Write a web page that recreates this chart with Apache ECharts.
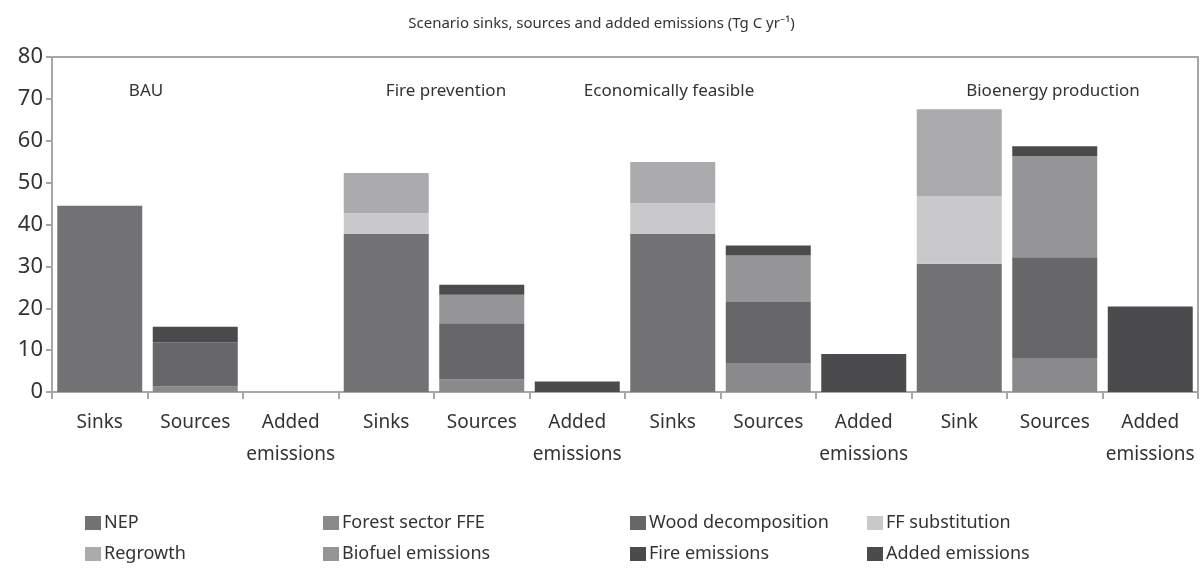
<!DOCTYPE html>
<html>
<head>
<meta charset="utf-8">
<script src="https://cdn.jsdelivr.net/npm/echarts@6/dist/echarts.min.js"></script>
<style>
  html, body { margin: 0; padding: 0; background: #fff; }
  #chart { width: 1203px; height: 569px; }
</style>
</head>
<body>
<div id="chart"></div>
<script>
// categories (three per scenario)
const categories = ['Sinks', 'Sources', 'Added\nemissions', 'Sinks', 'Sources', 'Added\nemissions',
  'Sinks', 'Sources', 'Added\nemissions', 'Sink', 'Sources', 'Added\nemissions']
const scenarios = ['BAU', 'Fire prevention', 'Economically feasible', 'Bioenergy production']
const yTicks = [0, 10, 20, 30, 40, 50, 60, 70, 80]

// values (Tg C / yr)
const nep          = [44.5, '-', '-', 37.8, '-', '-', 37.8, '-', '-', 30.6, '-', '-']
const forestFFE    = ['-', 1.3, '-', '-', 3.0, '-', '-', 6.9, '-', '-', 8.1, '-']
const woodDecomp   = ['-', 10.6, '-', '-', 13.4, '-', '-', 14.6, '-', '-', 24.1, '-']
const ffSubst      = ['-', '-', '-', 4.9, '-', '-', 7.3, '-', '-', 16.1, '-', '-']
const regrowth     = ['-', '-', '-', 9.6, '-', '-', 9.8, '-', '-', 20.8, '-', '-']
const biofuel      = ['-', '-', '-', '-', 6.8, '-', '-', 11.1, '-', '-', 24.1, '-']
const fireEm       = ['-', 3.7, '-', '-', 2.4, '-', '-', 2.4, '-', '-', 2.4, '-']
const addedEm      = ['-', '-', '-', '-', '-', 2.5, '-', '-', 9.1, '-', '-', 20.4]

// legend layout: two rows, four columns
const legendRows = [
  ['NEP', 'Forest sector FFE', 'Wood decomposition', 'FF substitution'],
  ['Regrowth', 'Biofuel emissions', 'Fire emissions', 'Added emissions']
]

const FONT = '"Noto Sans", sans-serif'

const chart = echarts.init(document.getElementById('chart'))

const mkBar = (name, data, color) => ({
  name: name,
  type: 'bar',
  stack: 'total',
  data: data,
  barCategoryGap: '11%',
  itemStyle: { color: color },
  emphasis: { disabled: true }
})

// one legend per entry so the columns line up like the original
const colLeft = [85, 323, 630, 867]
const rowTop = [514, 545]
const legends = []
legendRows.forEach((row, r) => {
  row.forEach((name, c) => {
    legends.push({
      left: colLeft[c],
      top: rowTop[r],
      padding: 0,
      itemWidth: 16,
      itemHeight: 14,
      icon: 'rect',
      data: [name],
      textStyle: { fontFamily: FONT, fontSize: 18, color: '#333', padding: [0, 0, 0, -2] }
    })
  })
})

const option = {
  animation: false,
  title: {
    text: 'Scenario sinks, sources and added emissions (Tg C yr\u207B\u00B9)',
    left: 'center',
    top: 11,
    textStyle: { fontFamily: FONT, fontSize: 15, fontWeight: 'normal', color: '#333' }
  },
  legend: legends,
  grid: {
    left: 52,
    right: 5,
    top: 57,
    bottom: 177,
    show: true,
    borderColor: '#a6a6a8',
    borderWidth: 2
  },
  xAxis: {
    type: 'category',
    data: categories,
    axisLine: { lineStyle: { color: '#a6a6a8', width: 2 } },
    axisTick: { show: true, length: 7, lineStyle: { color: '#a6a6a8', width: 2 } },
    axisLabel: {
      interval: 0,
      margin: 15,
      fontFamily: FONT,
      fontSize: 19,
      lineHeight: 32,
      color: '#333'
    }
  },
  yAxis: {
    type: 'value',
    min: 0,
    max: 80,
    interval: 10,
    splitLine: { show: false },
    axisLine: { show: true, lineStyle: { color: '#a6a6a8', width: 2 } },
    axisTick: { show: true, length: 6, lineStyle: { color: '#a6a6a8', width: 2 } },
    axisLabel: {
      margin: 9,
      fontFamily: FONT,
      fontSize: 22,
      color: '#333',
      formatter: v => (yTicks.includes(v) ? String(v) : '')
    }
  },
  series: [
    mkBar('NEP', nep, '#727274'),
    mkBar('Forest sector FFE', forestFFE, '#8a8a8c'),
    mkBar('Wood decomposition', woodDecomp, '#676769'),
    mkBar('FF substitution', ffSubst, '#c9c9cb'),
    mkBar('Regrowth', regrowth, '#ababad'),
    mkBar('Biofuel emissions', biofuel, '#959597'),
    mkBar('Fire emissions', fireEm, '#4b4b4d'),
    mkBar('Added emissions', addedEm, '#4b4b4d')
  ],
  // scenario names written inside the plot
  graphic: [
    { x: 146, text: scenarios[0] },
    { x: 446, text: scenarios[1] },
    { x: 669, text: scenarios[2] },
    { x: 1053, text: scenarios[3] }
  ].map(s => ({
    type: 'text',
    x: s.x,
    y: 91,
    style: {
      text: s.text,
      fontFamily: FONT,
      fontSize: 17,
      fill: '#333',
      align: 'center',
      verticalAlign: 'middle'
    }
  }))
}

chart.setOption(option)
</script>
</body>
</html>
